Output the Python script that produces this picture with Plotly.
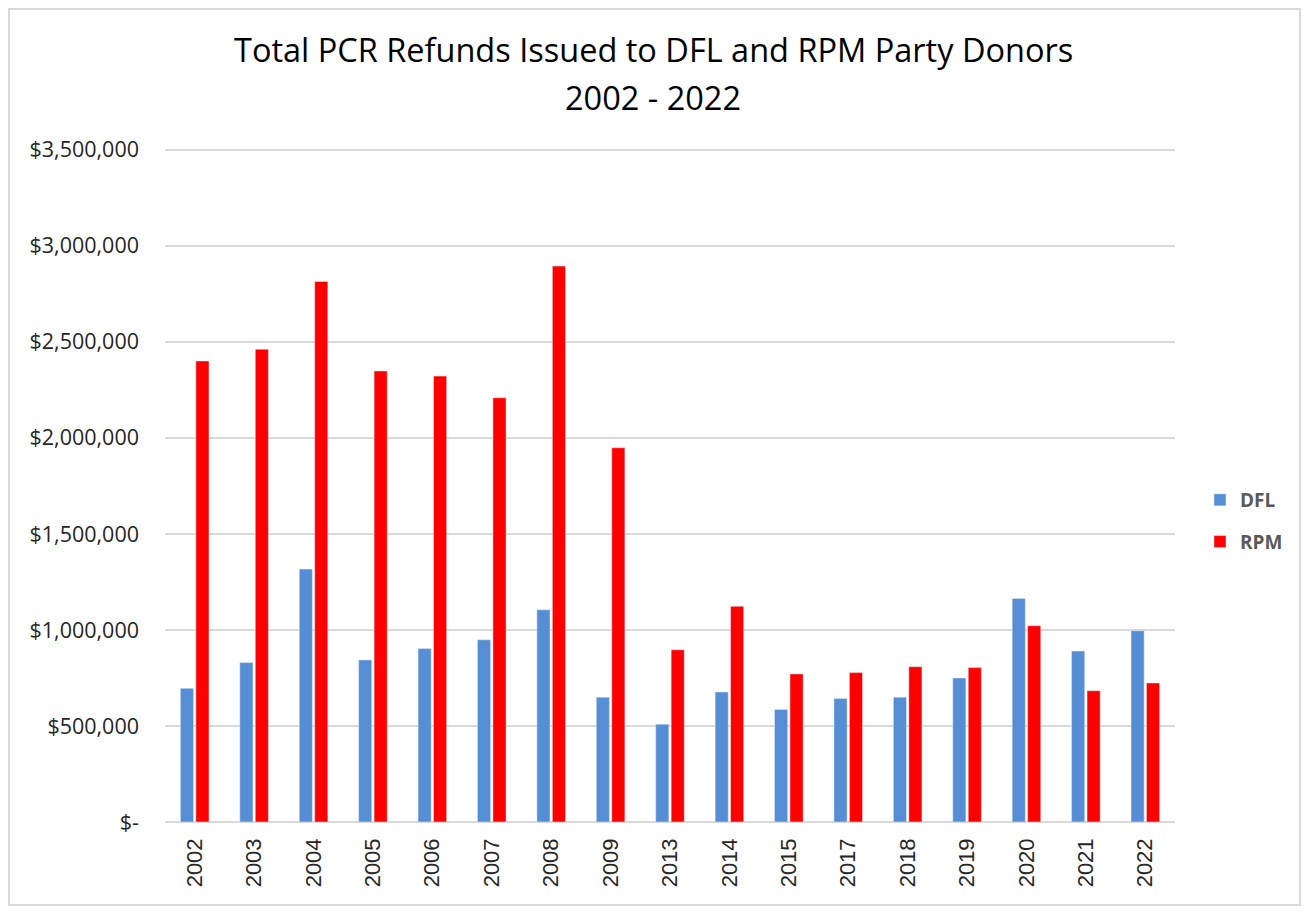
import plotly.graph_objects as go

years = ["2002", "2003", "2004", "2005", "2006", "2007", "2008", "2009", "2013",
         "2014", "2015", "2017", "2018", "2019", "2020", "2021", "2022"]
dfl = [696000, 830000, 1317000, 844000, 903000, 949000, 1105000, 650000, 509000,
       677000, 586000, 643000, 650000, 750000, 1164000, 890000, 996000]
rpm = [2401000, 2462000, 2815000, 2349000, 2322000, 2209000, 2895000, 1949000, 897000,
       1123000, 771000, 778000, 809000, 804000, 1022000, 684000, 724000]
tick_vals = [0, 500000, 1000000, 1500000, 2000000, 2500000, 3000000, 3500000]
tick_text = ["$-", "$500,000", "$1,000,000", "$1,500,000", "$2,000,000",
             "$2,500,000", "$3,000,000", "$3,500,000"]
title_line1 = "Total PCR Refunds Issued to DFL and RPM Party Donors"
title_line2 = "2002 - 2022"

OFF = 8  # page body margin
W, H = 1293, 900
L, T = 157, 140
pw, ph = 1010, 674
R, B = W - L - pw, H - T - ph

def px(xpage):
    return (xpage - OFF - L) / pw

def py(ypage):
    return (T + ph - (ypage - OFF)) / ph

fig = go.Figure()
fig.add_trace(go.Bar(x=years, y=dfl, name="DFL", marker=dict(color="#558ED5"),
                     legendgroup="a"))
fig.add_trace(go.Bar(x=years, y=rpm, name="RPM", marker=dict(color="#FF0000"),
                     legendgroup="b"))

fig.update_layout(
    width=W, height=H,
    margin=dict(l=L, r=R, t=T, b=B, autoexpand=False),
    paper_bgcolor="white", plot_bgcolor="white",
    barmode="group", bargap=0.48, bargroupgap=0.15,
    font=dict(family="Open Sans", color="#262626"),
    showlegend=True,
    legend=dict(x=px(1200), y=py(521), xanchor="left", yanchor="middle",
                font=dict(family="Open Sans", size=19, color="#595959", weight="bold"),
                tracegroupgap=14, bgcolor="rgba(0,0,0,0)"),
    xaxis=dict(type="category", tickangle=-90, showgrid=False, showline=False,
               ticks="", ticklabelstandoff=11,
               tickfont=dict(family="Liberation Sans", size=22, color="#262626")),
    yaxis=dict(range=[0, 3510000], tickvals=tick_vals, ticktext=tick_text,
               showgrid=True, gridcolor="#D9D9D9", gridwidth=2, zeroline=True,
               zerolinecolor="#D9D9D9", zerolinewidth=2, showline=False, ticks="",
               ticklabelstandoff=25,
               tickfont=dict(family="Open Sans", size=21.5, color="#262626")),
    annotations=[
        dict(text=title_line1, x=px(653), y=py(50), xref="paper", yref="paper",
             showarrow=False, xanchor="center", yanchor="middle",
             font=dict(family="Open Sans", size=32.5, color="#000000")),
        dict(text=title_line2, x=px(653), y=py(97), xref="paper", yref="paper",
             showarrow=False, xanchor="center", yanchor="middle",
             font=dict(family="Open Sans", size=32.5, color="#000000")),
    ],
    shapes=[
        dict(type="rect", xref="paper", yref="paper", x0=px(9), x1=px(1300),
             y0=py(905), y1=py(9), line=dict(color="#D9D9D9", width=2),
             fillcolor="rgba(0,0,0,0)", layer="below"),
    ],
)

fig.write_html("out.html")
